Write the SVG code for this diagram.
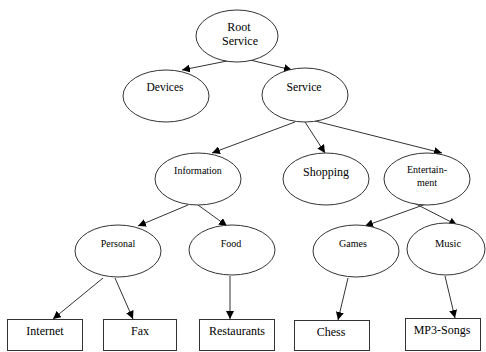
<svg xmlns="http://www.w3.org/2000/svg" width="486" height="352" viewBox="0 0 486 352">
<style>
.n{fill:#fff;stroke:#333;stroke-width:1}
.t{font-family:"Liberation Serif","Times New Roman",serif;fill:#000;text-anchor:middle}
.c line{stroke:#333;stroke-width:1;marker-end:url(#a)}
</style>
<defs>
<marker id="a" viewBox="0 0 10 10" refX="10" refY="5" markerWidth="8" markerHeight="8" markerUnits="userSpaceOnUse" orient="auto">
<path d="M0,0 L10,5 L0,10 z" fill="#000"/>
</marker>
</defs>
<rect width="486" height="352" fill="#fff"/>
<g id="connectors" class="c">
<line x1="232" y1="60" x2="182" y2="70"/>
<line x1="250" y1="60" x2="292" y2="70"/>
<line x1="295" y1="122" x2="212" y2="153"/>
<line x1="305" y1="122" x2="325" y2="153"/>
<line x1="315" y1="121" x2="442" y2="153"/>
<line x1="188" y1="205" x2="138" y2="226"/>
<line x1="198" y1="205" x2="227" y2="226"/>
<line x1="426" y1="204" x2="365" y2="226"/>
<line x1="414" y1="203" x2="457" y2="225"/>
<line x1="103" y1="278" x2="53" y2="319"/>
<line x1="115" y1="278" x2="133" y2="319"/>
<line x1="230" y1="276" x2="230" y2="319"/>
<line x1="348" y1="278" x2="338" y2="320"/>
<line x1="445" y1="276" x2="455" y2="318"/>
</g>
<g id="root"><ellipse class="n" cx="237" cy="36" rx="41" ry="26"/><text class="t" x="239" y="31" font-size="12">Root</text><text class="t" x="240" y="45" font-size="12">Service</text></g>
<g id="devices"><ellipse class="n" cx="166" cy="96" rx="43" ry="26"/><text class="t" x="165" y="91" font-size="11.5">Devices</text></g>
<g id="service"><ellipse class="n" cx="305" cy="95" rx="43" ry="27"/><text class="t" x="304" y="91" font-size="11.7">Service</text></g>
<g id="information"><ellipse class="n" cx="198" cy="179" rx="43" ry="26"/><text class="t" x="198" y="174" font-size="10">Information</text></g>
<g id="shopping"><ellipse class="n" cx="326" cy="179" rx="43" ry="26"/><text class="t" x="326" y="176" font-size="12">Shopping</text></g>
<g id="entertainment"><ellipse class="n" cx="427" cy="179" rx="43" ry="26"/><text class="t" x="427" y="173" font-size="10">Entertain-</text><text class="t" x="427" y="186" font-size="10">ment</text></g>
<g id="personal"><ellipse class="n" cx="118" cy="251" rx="43" ry="26"/><text class="t" x="118" y="247" font-size="10">Personal</text></g>
<g id="food"><ellipse class="n" cx="232" cy="250" rx="43" ry="25"/><text class="t" x="231" y="247" font-size="10">Food</text></g>
<g id="games"><ellipse class="n" cx="356" cy="251" rx="43" ry="26"/><text class="t" x="353" y="247" font-size="10">Games</text></g>
<g id="music"><ellipse class="n" cx="446" cy="249" rx="39" ry="26"/><text class="t" x="448" y="247" font-size="10.5">Music</text></g>
<g id="internet"><rect class="n" x="7.5" y="319.5" width="75" height="31"/><text class="t" x="45" y="335" font-size="12">Internet</text></g>
<g id="fax"><rect class="n" x="103.5" y="319.5" width="73" height="31"/><text class="t" x="140" y="335" font-size="12">Fax</text></g>
<g id="restaurants"><rect class="n" x="199.5" y="319.5" width="75" height="31"/><text class="t" x="237" y="335" font-size="12">Restaurants</text></g>
<g id="chess"><rect class="n" x="294.5" y="320.5" width="75" height="30"/><text class="t" x="331" y="336" font-size="12">Chess</text></g>
<g id="mp3songs"><rect class="n" x="405.5" y="318.5" width="75" height="32"/><text class="t" x="442" y="334" font-size="12">MP3-Songs</text></g>
</svg>
